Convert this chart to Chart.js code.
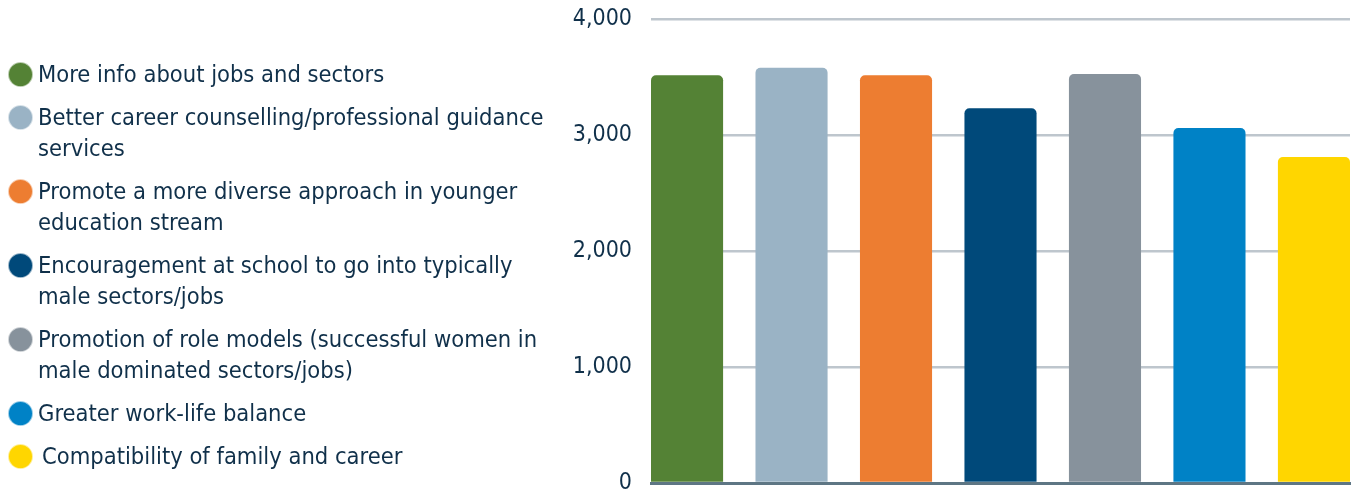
<!DOCTYPE html>
<html lang="en">
<head>
  <meta charset="UTF-8">
  <title>Measures</title>
  <script src="https://cdn.jsdelivr.net/npm/chart.js"></script>
  <style>
    body {
      margin: 0;
      background: #fff;
      overflow: hidden;
      font-family: "DejaVu Sans Condensed", "DejaVu Sans", sans-serif;
    }
    .wrap {
      position: relative;
      width: 1359px;
      height: 494px;
    }
    canvas {
      position: absolute;
      left: 0;
      top: 0;
    }
    #legend {
      position: absolute;
      left: 7px;
      top: 59px;
      width: 545px;
      list-style: none;
      margin: 0;
      padding: 0;
      color: #10304a;
      font-size: 23.5px;
      line-height: 31px;
    }
    #legend li {
      position: relative;
      padding-left: 31px;
      margin-bottom: 12px;
    }
    #legend li:last-child {
      padding-left: 35px;
    }
    #legend .dot {
      position: absolute;
      left: 1px;
      top: 3px;
      width: 25px;
      height: 25px;
      border-radius: 50%;
      box-sizing: border-box;
      border: 1px solid rgba(255,255,255,0.6);
    }
  </style>
</head>
<body>

<div class="wrap">
  <canvas id="chart"></canvas>
  <ul id="legend"></ul>
</div>

<script>
  // categories (each as its lines in the legend)
  const categories = [
    ["More info about jobs and sectors"],
    ["Better career counselling/professional guidance", "services"],
    ["Promote a more diverse approach in younger", "education stream"],
    ["Encouragement at school to go into typically", "male sectors/jobs"],
    ["Promotion of role models (successful women in", "male dominated sectors/jobs)"],
    ["Greater work-life balance"],
    ["Compatibility of family and career"]
  ];
  const values = [3515, 3580, 3515, 3230, 3525, 3060, 2810];
  const colors = ["#548235", "#9ab3c5", "#ed7d31", "#00497a", "#87929c", "#0082c6", "#ffd600"];
  const yTicks = [0, 1000, 2000, 3000, 4000];

  // legend on the left
  const legend = document.getElementById("legend");
  categories.forEach((lines, i) => {
    const li = document.createElement("li");
    const dot = document.createElement("span");
    dot.className = "dot";
    dot.style.background = colors[i];
    li.appendChild(dot);
    li.appendChild(document.createTextNode(lines[0]));
    for (let k = 1; k < lines.length; k++) {
      li.appendChild(document.createElement("br"));
      li.appendChild(document.createTextNode(lines[k]));
    }
    legend.appendChild(li);
  });

  const ctx = document.getElementById("chart").getContext("2d");
  new Chart(ctx, {
    type: "bar",
    data: {
      datasets: [{
        data: values.map((v, i) => ({ x: i, y: v })),
        backgroundColor: colors,
        borderWidth: 0,
        borderRadius: { topLeft: 5, topRight: 5, bottomLeft: 0, bottomRight: 0 },
        borderSkipped: "bottom",
        barPercentage: 0.69,
        categoryPercentage: 1
      }]
    },
    options: {
      responsive: true,
      maintainAspectRatio: false,
      animation: false,
      layout: { padding: { left: 551, right: 9, top: 19, bottom: 11 } },
      plugins: {
        legend: { display: false },
        tooltip: { enabled: false }
      },
      scales: {
        x: {
          type: "linear",
          min: -0.345,
          max: 6.345,
          offset: false,
          bounds: "data",
          afterBuildTicks: scale => { scale.ticks = values.map((v, i) => ({ value: i })); },
          grid: { display: false, drawTicks: false },
          border: { display: true, color: "#5e7684", width: 3 },
          ticks: { display: false }
        },
        y: {
          min: 0,
          max: 4000,
          afterFit: scale => { scale.width = 100; },
          afterBuildTicks: scale => { scale.ticks = yTicks.map(v => ({ value: v })); },
          grid: { color: "#bec6cd", lineWidth: 2.5, drawTicks: true, tickLength: 19, tickColor: "rgba(0,0,0,0)" },
          border: { display: false },
          ticks: {
            padding: 0,
            color: "#10304a",
            font: { family: "'DejaVu Sans Condensed', 'DejaVu Sans', sans-serif", size: 23, lineHeight: 0.9 },
            callback: v => v.toLocaleString("en-US")
          }
        }
      }
    }
  });
</script>

</body>
</html>
